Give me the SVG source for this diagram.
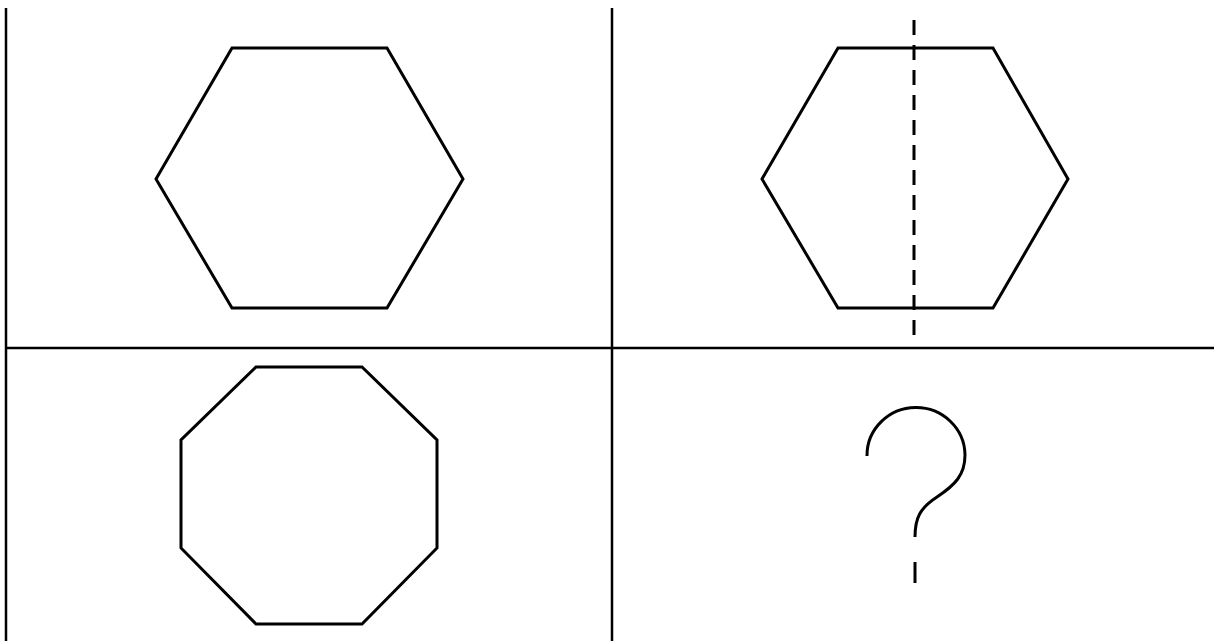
<svg xmlns="http://www.w3.org/2000/svg" width="1214" height="641" viewBox="0 0 1214 641">
<style>
.s{fill:none;stroke:#000;stroke-width:3;stroke-linejoin:miter}
.g{fill:none;stroke:#000;stroke-width:2.5}
</style>
<rect width="1214" height="641" fill="#fff"/>
<g id="grid">
<line class="g" x1="6" y1="8" x2="6" y2="641"/>
<line class="g" x1="612" y1="8" x2="612" y2="641"/>
<line class="g" x1="6" y1="348" x2="1214" y2="348"/>
</g>
<g id="hexagon1"><polygon class="s" points="232,48 387,48 463,179 387,308 232,308 156,179"/></g>
<g id="hexagon2"><polygon class="s" points="838,48 993,48 1068,179 993,308 838,308 762,179"/>
<line class="s" x1="914" y1="20" x2="914" y2="335" stroke-dasharray="15 10"/></g>
<g id="octagon"><polygon class="s" points="256,367 362,367 437,440 437,548 362,624 256,624 181,548 181,440"/></g>
<g id="question"><path class="s" d="M867,456 A49,48 0 0 1 965,455 C965,475 955,485 937,497 C920,508 915,518 915,537"/>
<line class="s" x1="915" y1="562" x2="915" y2="583"/></g>
</svg>
